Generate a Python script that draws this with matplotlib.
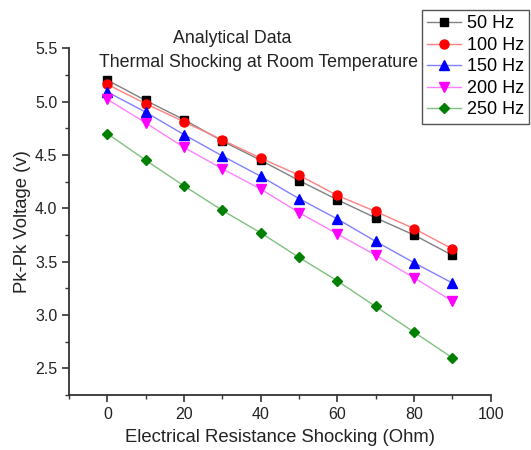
import matplotlib.pyplot as plt
from matplotlib.ticker import MultipleLocator

plt.rcParams['font.family'] = ['Liberation Sans', 'DejaVu Sans']

resistance = [0, 10, 20, 30, 40, 50, 60, 70, 80, 90]
v50 = [5.20, 5.01, 4.83, 4.63, 4.45, 4.26, 4.08, 3.91, 3.75, 3.56]
v100 = [5.16, 4.98, 4.81, 4.64, 4.47, 4.31, 4.12, 3.97, 3.81, 3.62]
v150 = [5.09, 4.90, 4.69, 4.49, 4.30, 4.09, 3.90, 3.69, 3.49, 3.30]
v200 = [5.02, 4.80, 4.57, 4.37, 4.18, 3.96, 3.76, 3.56, 3.35, 3.13]
v250 = [4.70, 4.45, 4.21, 3.98, 3.77, 3.54, 3.32, 3.08, 2.84, 2.60]
labels = ['50 Hz', '100 Hz', '150 Hz', '200 Hz', '250 Hz']

fig = plt.figure(figsize=(5.31, 4.5), dpi=100)
ax = fig.add_axes([0.130, 0.122, 0.794, 0.771])

# (line colour, marker colour, marker, size)
styles = [
    ('#808080', 'black', 's', 6),
    ('#ff8080', 'red', 'o', 6.5),
    ('#8080ff', 'blue', '^', 7),
    ('#ff80ff', 'magenta', 'v', 7),
    ('#80c080', '#008000', 'D', 5.5),
]
series = [v50, v100, v150, v200, v250]
for vals, lab, (lc, mc, mk, ms) in zip(series, labels, styles):
    ax.plot(resistance, vals, color=lc, lw=1.0, marker=mk, ms=ms,
            mfc=mc, mec=mc, label=lab)

ax.set_xlim(-10, 100)
ax.set_ylim(2.25, 5.5)
ax.xaxis.set_major_locator(MultipleLocator(20))
ax.xaxis.set_minor_locator(MultipleLocator(10))
ax.yaxis.set_major_locator(MultipleLocator(0.5))
ax.yaxis.set_minor_locator(MultipleLocator(0.25))
ax.yaxis.set_major_formatter(plt.FormatStrFormatter('%.1f'))

for s in ['top', 'right']:
    ax.spines[s].set_visible(False)
for s in ['left', 'bottom']:
    ax.spines[s].set_linewidth(1.3)
    ax.spines[s].set_color('#333333')
ax.tick_params(which='major', direction='out', length=5, width=1.2,
               labelsize=11.5, color='#333333', labelcolor='#222222')
ax.tick_params(which='minor', direction='out', length=3, width=1.0,
               color='#333333')

ax.set_xlabel('Electrical Resistance Shocking (Ohm)', fontsize=13.3,
              color='#222222', labelpad=5)
ax.set_ylabel('Pk-Pk Voltage (v)', fontsize=13.3, color='#222222',
              labelpad=3)

fig.text(0.437, 0.915, 'Analytical Data', ha='center', va='center',
         fontsize=12.8, color='#222222')
fig.text(0.486, 0.862, 'Thermal Shocking at Room Temperature',
         ha='center', va='center', fontsize=12.8, color='#222222')

leg = ax.legend(loc='upper right', bbox_to_anchor=(0.997, 0.978),
                bbox_transform=fig.transFigure, fontsize=13,
                frameon=True, fancybox=False, framealpha=1,
                edgecolor='#555555', handlelength=1.9, handletextpad=0.3,
                labelspacing=0.25, borderpad=0.3, borderaxespad=0)
leg.get_frame().set_linewidth(1.0)

fig.savefig('out.png', dpi=100)
